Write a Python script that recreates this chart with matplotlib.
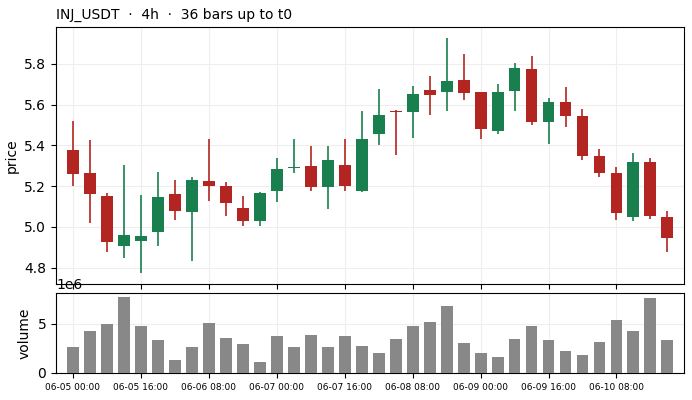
import matplotlib
matplotlib.use("Agg")
import matplotlib.pyplot as plt
import numpy as np

opens = [5.379, 5.266, 5.153, 4.904, 4.929, 4.973, 5.163, 5.074, 5.227, 5.202,
         5.094, 5.030, 5.178, 5.290, 5.300, 5.194, 5.305, 5.178, 5.454, 5.571,
         5.562, 5.674, 5.661, 5.723, 5.664, 5.469, 5.666, 5.777, 5.513, 5.615,
         5.546, 5.346, 5.263, 5.051, 5.320, 5.050]
closes = [5.261, 5.163, 4.924, 4.961, 4.956, 5.148, 5.079, 5.232, 5.202, 5.119,
          5.030, 5.168, 5.286, 5.295, 5.194, 5.330, 5.202, 5.433, 5.551, 5.562,
          5.654, 5.646, 5.718, 5.656, 5.479, 5.664, 5.782, 5.513, 5.615, 5.543,
          5.346, 5.263, 5.066, 5.320, 5.056, 4.948]
highs = [5.522, 5.428, 5.168, 5.305, 5.158, 5.269, 5.232, 5.246, 5.433, 5.220,
         5.153, 5.171, 5.340, 5.433, 5.399, 5.399, 5.433, 5.571, 5.677, 5.576,
         5.692, 5.741, 5.928, 5.849, 5.664, 5.703, 5.805, 5.841, 5.633, 5.687,
         5.579, 5.384, 5.295, 5.364, 5.340, 5.079]
lows = [5.202, 5.019, 4.876, 4.847, 4.773, 4.904, 5.032, 4.835, 5.125, 5.056,
        5.007, 5.007, 5.120, 5.264, 5.174, 5.087, 5.174, 5.169, 5.402, 5.353,
        5.436, 5.549, 5.569, 5.623, 5.431, 5.456, 5.569, 5.500, 5.407, 5.490,
        5.328, 5.245, 5.032, 5.027, 5.040, 4.879]
volumes = [2.63, 4.23, 4.93, 7.73, 4.73, 3.33, 1.33, 2.63, 5.03, 3.53,
           2.93, 1.13, 3.73, 2.63, 3.83, 2.63, 3.73, 2.73, 2.03, 3.43,
           4.73, 5.13, 6.83, 3.03, 2.03, 1.63, 3.43, 4.73, 3.33, 2.23,
           1.83, 3.13, 5.33, 4.23, 7.63, 3.33]
volumes = [v * 1e6 for v in volumes]
tick_labels = ["06-05 00:00", "06-05 16:00", "06-06 08:00", "06-07 00:00",
               "06-07 16:00", "06-08 08:00", "06-09 00:00", "06-09 16:00",
               "06-10 08:00"]
title = "INJ_USDT  ·  4h  ·  36 bars up to t0"

UP = "#1a7f4e"
DOWN = "#b22520"

fig = plt.figure(figsize=(6.92, 4.0), dpi=100)
ax = fig.add_axes([0.0809, 0.29, 0.9081, 0.642])
axv = fig.add_axes([0.0809, 0.0675, 0.9081, 0.1995], sharex=ax)

x = np.arange(len(opens))
w = 0.7
for i in x:
    o, c, h, l = opens[i], closes[i], highs[i], lows[i]
    col = UP if c >= o else DOWN
    ax.vlines(i, l, h, color=col, linewidth=1.2, zorder=2)
    bottom = min(o, c)
    height = max(abs(c - o), 0.004)
    ax.bar(i, height, bottom=bottom, width=w, color=col, zorder=3)

axv.bar(x, volumes, width=w, color="#888888", zorder=3)

ax.set_xlim(-1, 36)
ax.set_ylim(4.72, 5.98)
ax.set_yticks([4.8, 5.0, 5.2, 5.4, 5.6, 5.8])
ax.set_ylabel("price")
ax.set_title(title, loc="left", fontsize=10)
ax.grid(True, color="#eeeeee", linewidth=0.8, zorder=0)
ax.tick_params(axis="x", labelbottom=False)

tick_pos = x[::4][:len(tick_labels)]
axv.set_xticks(tick_pos)
axv.set_xticklabels(tick_labels, fontsize=6.5)
axv.set_ylim(0, 8.1e6)
axv.set_yticks([0, 5e6])
axv.set_ylabel("volume")
axv.grid(True, color="#eeeeee", linewidth=0.8, zorder=0)

fig.savefig("out.png", dpi=100)
